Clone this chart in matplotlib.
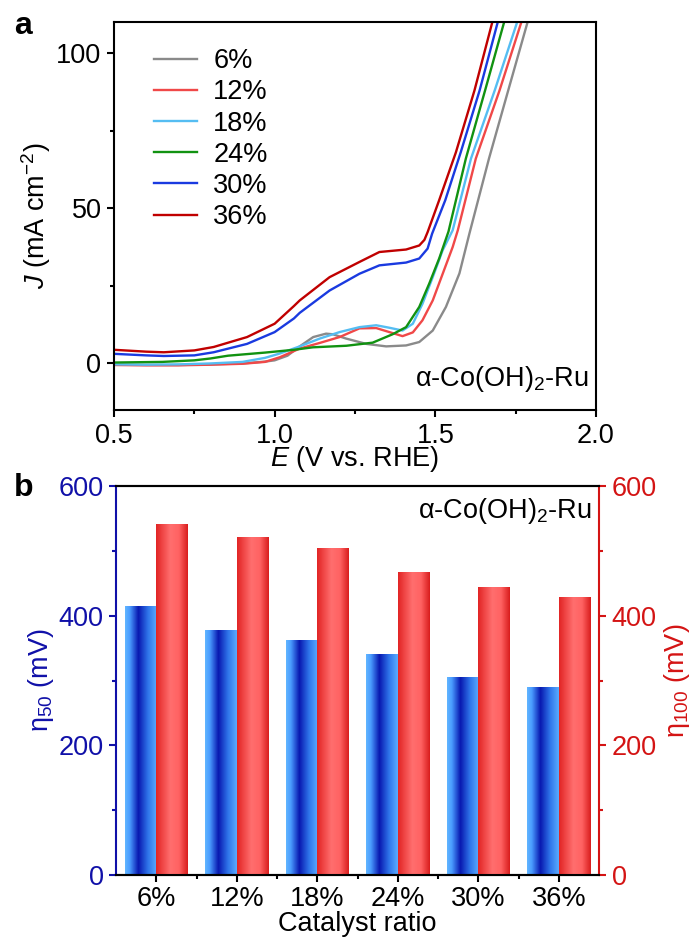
import numpy as np
import matplotlib
matplotlib.use("Agg")
import matplotlib.pyplot as plt
from matplotlib.colors import LinearSegmentedColormap
from matplotlib.ticker import MultipleLocator, FormatStrFormatter

plt.rcParams['font.family'] = ['Liberation Sans', 'DejaVu Sans']
plt.rcParams['mathtext.fontset'] = 'custom'
plt.rcParams['mathtext.rm'] = 'Liberation Sans'
plt.rcParams['mathtext.it'] = 'Liberation Sans:italic'

# ---- panel a: LSV curves ----
labels = ["6%", "12%", "18%", "24%", "30%", "36%"]
colors = ["#8a8a8a", "#f04848", "#55bdf2", "#119211", "#1a3ae0", "#c00000"]

E_6 = [0.5, 0.6, 0.7, 0.8, 0.9, 0.97, 1.0, 1.04, 1.078, 1.12, 1.16, 1.181, 1.223, 1.285,
       1.347, 1.409, 1.45, 1.492, 1.533, 1.575, 1.606, 1.667, 1.727, 1.79]
J_6 = [-0.4, -0.5, -0.5, -0.3, 0.0, 0.6, 1.0, 2.5, 5.5, 8.5, 9.6, 9.4, 8.0, 6.3,
       5.5, 5.8, 6.9, 10.6, 18.2, 29.0, 41.8, 66.0, 88.0, 111.0]

E_12 = [0.5, 0.6, 0.7, 0.8, 0.9, 0.97, 1.016, 1.078, 1.14, 1.202, 1.264, 1.316, 1.357,
        1.398, 1.43, 1.46, 1.492, 1.523, 1.554, 1.57, 1.626, 1.70, 1.771]
J_12 = [-0.5, -0.6, -0.6, -0.4, -0.1, 0.5, 2.0, 4.8, 6.6, 8.5, 11.3, 11.4, 10.1,
        8.8, 10.0, 13.9, 20.3, 28.9, 37.5, 42.9, 66.0, 88.0, 111.0]

E_18 = [0.5, 0.6, 0.7, 0.8, 0.9, 0.97, 1.016, 1.078, 1.14, 1.202, 1.264, 1.316, 1.357,
        1.398, 1.43, 1.46, 1.492, 1.523, 1.554, 1.611, 1.685, 1.758]
J_18 = [-0.3, -0.4, -0.3, 0.0, 0.5, 1.8, 3.2, 5.5, 8.0, 10.1, 11.7, 12.3, 11.5,
        10.6, 12.8, 19.2, 27.8, 36.5, 42.9, 66.0, 88.0, 111.0]

E_24 = [0.5, 0.65, 0.75, 0.8, 0.855, 0.97, 1.06, 1.119, 1.223, 1.305, 1.367, 1.409,
        1.45, 1.481, 1.512, 1.541, 1.595, 1.655, 1.717]
J_24 = [0.3, 0.5, 1.0, 1.6, 2.5, 3.5, 4.4, 5.2, 5.7, 6.7, 9.4, 11.7,
        18.2, 25.7, 33.8, 42.5, 66.0, 88.0, 111.0]

E_30 = [0.5, 0.6, 0.655, 0.75, 0.81, 0.914, 1.0, 1.06, 1.078, 1.171, 1.264, 1.326,
        1.409, 1.45, 1.476, 1.49, 1.531, 1.579, 1.638, 1.697]
J_30 = [3.1, 2.6, 2.4, 2.6, 3.6, 6.3, 10.1, 14.5, 16.3, 23.5, 28.9, 31.6,
        32.5, 33.8, 37.0, 41.8, 52.6, 68.0, 88.0, 111.0]

E_36 = [0.5, 0.6, 0.655, 0.75, 0.81, 0.914, 1.0, 1.06, 1.078, 1.171, 1.264, 1.326,
        1.409, 1.45, 1.466, 1.476, 1.512, 1.564, 1.622, 1.68]
J_36 = [4.4, 3.8, 3.6, 4.2, 5.3, 8.5, 12.8, 18.5, 20.3, 27.8, 32.7, 35.9,
        36.7, 38.0, 39.8, 42.3, 52.6, 68.0, 88.0, 111.0]

curves_E = [E_6, E_12, E_18, E_24, E_30, E_36]
curves_J = [J_6, J_12, J_18, J_24, J_30, J_36]

# ---- panel b: overpotentials ----
ratios = ["6%", "12%", "18%", "24%", "30%", "36%"]
eta50 = [415, 378, 362, 341, 306, 290]
eta100 = [542, 521, 505, 468, 445, 429]

BLUE_AX = "#1010a8"
RED_AX = "#d41414"
FS = 19.5

fig = plt.figure(figsize=(6.93, 9.43), dpi=100)

# ------------------------------------------------------------- panel a
ax = fig.add_axes([0.1645, 0.5652, 0.6955, 0.4115])
for E, J, lab, c in zip(curves_E, curves_J, labels, colors):
    ax.plot(E, J, color=c, lw=1.7, label=lab, solid_joinstyle='round')

ax.set_xlim(0.5, 2.0)
ax.set_ylim(-15, 110)
ax.xaxis.set_major_locator(MultipleLocator(0.5))
ax.xaxis.set_minor_locator(MultipleLocator(0.25))
ax.yaxis.set_major_locator(MultipleLocator(50))
ax.yaxis.set_minor_locator(MultipleLocator(25))
ax.xaxis.set_major_formatter(FormatStrFormatter('%.1f'))
ax.tick_params(which='major', direction='out', length=5, width=1.5, labelsize=FS, pad=4)
ax.tick_params(which='minor', direction='out', length=3, width=1.5)
for s in ax.spines.values():
    s.set_linewidth(1.5)
ax.set_xlabel(r'$\mathit{E}$ (V vs. RHE)', fontsize=FS, labelpad=-3)
ax.set_ylabel(r'$\mathit{J}$ (mA cm$^{\mathregular{-2}}$)', fontsize=FS, labelpad=2)
ax.legend(loc='upper left', frameon=False, fontsize=FS, handlelength=1.6,
          handletextpad=0.6, labelspacing=0.19, borderaxespad=0.0,
          bbox_to_anchor=(0.06, 0.96))
ax.text(0.985, 0.04, r'α-Co(OH)$_{\mathregular{2}}$-Ru', transform=ax.transAxes,
        ha='right', va='bottom', fontsize=FS)
fig.text(0.02, 0.988, 'a', fontsize=23, fontweight='bold', va='top')

# ------------------------------------------------------------- panel b
axb = fig.add_axes([0.1674, 0.0721, 0.697, 0.4125])
ax2 = axb.twinx()
x = np.arange(len(ratios))
w = 0.39
bars_b = axb.bar(x - w / 2, eta50, width=w, color='none', edgecolor='none')
bars_r = ax2.bar(x + w / 2, eta100, width=w, color='none', edgecolor='none')

cm_blue = LinearSegmentedColormap.from_list(
    'bl', [(0, '#62b6ff'), (0.15, '#4a9cff'), (0.42, '#0818b0'), (0.72, '#2f74ea'),
           (1.0, '#5aacff')])
cm_red = LinearSegmentedColormap.from_list(
    'rd', [(0, '#e22424'), (0.45, '#ff6e6e'), (0.72, '#ff6262'), (1.0, '#d81c1c')])
grad = np.linspace(0, 1, 256).reshape(1, -1)
for bars, cm, a in ((bars_b, cm_blue, axb), (bars_r, cm_red, ax2)):
    for b in bars:
        x0, h = b.get_x(), b.get_height()
        im = a.imshow(grad, cmap=cm, aspect='auto', extent=[x0, x0 + b.get_width(), 0, h],
                      zorder=2)
        im.set_clip_path(b)

for a in (axb, ax2):
    a.set_xlim(-0.5, len(ratios) - 0.5)
    a.set_ylim(0, 600)
    a.yaxis.set_major_locator(MultipleLocator(200))
    a.yaxis.set_minor_locator(MultipleLocator(100))
    for s in a.spines.values():
        s.set_linewidth(1.5)

axb.set_xticks(x)
axb.set_xticklabels(ratios)
axb.set_xticks(x[:-1] + 0.5, minor=True)
axb.tick_params(axis='x', which='major', direction='out', length=5, width=1.5,
                labelsize=FS, pad=3)
axb.tick_params(axis='x', which='minor', direction='out', length=3, width=1.5)
axb.tick_params(axis='y', which='major', direction='out', length=5, width=1.5,
                labelsize=FS, colors=BLUE_AX, pad=4)
axb.tick_params(axis='y', which='minor', direction='out', length=3, width=1.5,
                colors=BLUE_AX)
ax2.tick_params(axis='y', which='major', direction='out', length=5, width=1.5,
                labelsize=FS, colors=RED_AX, pad=4)
ax2.tick_params(axis='y', which='minor', direction='out', length=3, width=1.5,
                colors=RED_AX)
axb.spines['left'].set_color(BLUE_AX)
axb.spines['right'].set_visible(False)
ax2.spines['left'].set_visible(False)
ax2.spines['right'].set_color(RED_AX)

axb.set_xlabel('Catalyst ratio', fontsize=FS, labelpad=-1)
axb.set_ylabel(r'η$_{\mathregular{50}}$ (mV)', fontsize=FS, color=BLUE_AX, labelpad=2)
ax2.set_ylabel(r'η$_{\mathregular{100}}$ (mV)', fontsize=FS, color=RED_AX, labelpad=4)
ax2.text(0.985, 0.975, r'α-Co(OH)$_{\mathregular{2}}$-Ru', transform=ax2.transAxes,
         ha='right', va='top', fontsize=FS)
fig.text(0.02, 0.498, 'b', fontsize=23, fontweight='bold', va='top')

fig.savefig('out.png', dpi=100)
